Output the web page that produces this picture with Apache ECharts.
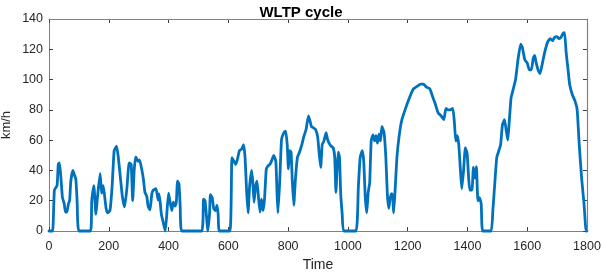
<!DOCTYPE html>
<html><head><meta charset="utf-8">
<script src="https://cdn.jsdelivr.net/npm/echarts@6/dist/echarts.min.js"></script>
<style>html,body{margin:0;padding:0;background:#fff}#c{width:602px;height:272px}</style>
</head><body><div id="c"></div>
<script>
const time = [0,12,18,27,31,35,40,45,51,55,60,65,69,73,80,86,90,94,100,139,143,150,157,162,171,176,181,185,191,196,204,211,218,226,232,240,246,253,261,268,275,280,285,290,298,303,311,316,321,327,332,338,344,349,358,365,368,372,376,383,389,394,400,406,411,416,422,426,430,435,439,444,511,517,522,528,531,537,540,546,551,557,562,566,570,605,612,619,624,630,637,644,651,656,661,666,671,678,682,686,691,696,701,706,711,716,721,727,733,739,746,752,759,763,766,772,778,786,792,797,801,805,810,814,819,824,831,838,846,852,860,868,873,878,886,892,899,904,909,914,920,927,932,937,944,951,956,960,964,968,972,976,981,986,1027,1035,1041,1048,1053,1058,1063,1068,1073,1078,1084,1089,1094,1099,1104,1109,1114,1121,1127,1132,1137,1144,1149,1153,1158,1164,1171,1180,1193,1206,1218,1231,1244,1253,1263,1274,1283,1293,1302,1312,1321,1328,1335,1343,1351,1356,1361,1366,1371,1376,1381,1387,1393,1399,1404,1408,1415,1420,1425,1430,1435,1440,1446,1451,1479,1485,1492,1498,1505,1511,1517,1524,1530,1535,1540,1546,1553,1561,1569,1578,1584,1592,1600,1607,1614,1620,1625,1630,1637,1643,1650,1659,1668,1677,1685,1691,1700,1706,1713,1720,1725,1730,1736,1742,1751,1760,1767,1774,1782,1790,1797,1800];
const speed = [0,0,27,30,44,45,35,22,18,12.5,12.5,18,20,33,40,36.5,34,20,0,0,20,30,11,22,38,25,30,25,15,12,13.5,29,53,56,48.5,33,22,16,29,45,44,20,40,49,46,47,40,34,25.5,23,16,14,24.5,27,28,20.5,24.5,19,11,5,0,11,25,18,13.5,19,16.5,19,33,31,16,0,0,21,20,7,0,11,24,22,15,13.5,17,11,0,0,48.5,46,44,47,53,54,57,48.5,27,12,29,40,32,19,29,33,22,12.5,21,13.5,21,41,43,44,47,50,46,24.5,12,33,60.5,65,66,57,41,53,52,33,17,33,48.5,52,57,62,67,76,73,69,68,67,62,51,42,57,59.5,65,60.5,58,56,55,48.5,25.5,42,52,48.5,24.5,11,0,0,29,48.5,53,46,23,12,25.5,32,59.5,63.5,59.5,63,58,64,59.5,69,65,48.5,24.5,15,24.5,24.5,12,27,48.5,62,73,81,88,93.5,95.5,97,97,95,94,89,83.5,78,76,73.5,81,80,80,81,72.6,59.5,63,57,42,28,40,55,51,35,27,27,42,35,42.5,20,22,18,0,0,13.5,33,48.5,53,57,70,73.5,66,60,72.6,88,93.5,100,113,123.4,121,113,111,106.5,106.5,114,116,111,106,104,110,118.5,124.7,127,125.6,127.8,128.4,127,127.8,130.6,131,118.5,107.6,96.7,90,85.8,80.3,57,35,18,0,0];
const xTicks = [0,200,400,600,800,1000,1200,1400,1600,1800];
const yTicks = [0,20,40,60,80,100,120,140];

const data = time.map((t,i)=>[t, speed[i]]);
const xMin = xTicks[0], xMax = xTicks[xTicks.length-1];
const yMin = yTicks[0], yMax = yTicks[yTicks.length-1];
const axisCol = '#808080';
const txtCol = '#262626';
const font = 'Liberation Sans, Arial, Helvetica, sans-serif';
const chart = echarts.init(document.getElementById('c'), null, {renderer:'canvas'});
function mkX(extra){
  return Object.assign({
    type:'value', show:true, min:xMin, max:xMax, interval:200,
    axisLine:{show:true, onZero:false, lineStyle:{color:axisCol, width:1}},
    axisTick:{show:true, inside:true, length:4, lineStyle:{color:'#404040'}},
    splitLine:{show:false}
  }, extra);
}
function mkY(extra){
  return Object.assign({
    type:'value', show:true, min:yMin, max:yMax, interval:20,
    axisLine:{show:true, onZero:false, lineStyle:{color:axisCol, width:1}},
    axisTick:{show:true, inside:true, length:4, lineStyle:{color:'#404040'}},
    splitLine:{show:false}
  }, extra);
}
chart.setOption({
  animation:false,
  backgroundColor:'#fff',
  title:{text:'WLTP cycle', left:'center', top:0,
    textStyle:{fontFamily:font, fontWeight:'bold', fontSize:15, color:'#000'}},
  grid:{show:false,
    left:49, right:15, top:19, bottom:41, containLabel:false, outerBoundsMode:'none'},
  xAxis:[
    mkX({position:'bottom', name:'Time', nameLocation:'middle', nameGap:27,
      nameTextStyle:{fontFamily:font, fontSize:14, color:txtCol},
      axisLabel:{fontFamily:font, fontSize:12.5, color:txtCol, margin:9, formatter:v=>String(v)}}),
    mkX({position:'top', axisLabel:{show:false}})
  ],
  yAxis:[
    mkY({position:'left', name:'km/h', nameLocation:'middle', nameGap:36, nameMoveOverlap:false,
      nameTextStyle:{fontFamily:font, fontSize:13, color:txtCol},
      axisLabel:{fontFamily:font, fontSize:12.5, color:txtCol, margin:6, formatter:v=>String(v)}}),
    mkY({position:'right', axisLabel:{show:false}})
  ],
  series:[{
    type:'line', data:data, xAxisIndex:0, yAxisIndex:0,
    showSymbol:false, symbol:'none', smooth:0.15,
    lineStyle:{color:'#0072BD', width:2.8, join:'round', cap:'round'},
    clip:false,
    markLine:{
      silent:true, symbol:['none','none'], animation:false,
      label:{show:false},
      lineStyle:{color:axisCol, width:1.2, type:'solid'},
      emphasis:{disabled:true},
      data:[
        [{coord:[xMin, yMax]}, {coord:[xMax, yMax]}],
        [{coord:[xMax, yMin]}, {coord:[xMax, yMax]}]
      ]
    }
  },{
    type:'line', data:[[0,0]], xAxisIndex:1, yAxisIndex:1, showSymbol:false, lineStyle:{opacity:0}
  }]
});
</script></body></html>
